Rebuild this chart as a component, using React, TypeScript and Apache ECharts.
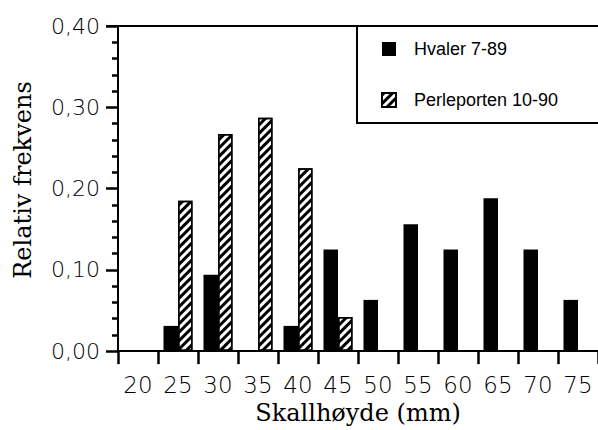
import React, { useEffect, useRef } from "react";
import * as echarts from "echarts";

const categories = ["20", "25", "30", "35", "40", "45", "50", "55", "60", "65", "70", "75"];
const hvaler = [0, 0.031, 0.094, 0, 0.031, 0.125, 0.063, 0.156, 0.125, 0.188, 0.125, 0.063];
const perleporten = [null, 0.185, 0.267, 0.287, 0.225, 0.042, null, null, null, null, null, null];
const yTickLabels = ["0,00", "0,10", "0,20", "0,30", "0,40"];
const seriesNames = ["Hvaler 7-89", "Perleporten 10-90"];
const xTitle = "Skallhøyde (mm)";
const yTitle = "Relativ frekvens";

const hatch = {
  symbol: "rect",
  symbolSize: 1,
  dashArrayX: [1, 0],
  dashArrayY: [3, 3],
  rotation: -Math.PI / 4,
  color: "#000",
  backgroundColor: "#fff",
};

export default function App() {
  const ref = useRef<HTMLDivElement>(null);
  useEffect(() => {
    if (!ref.current) return;
    const chart = echarts.init(ref.current, undefined, { renderer: "svg" });
    const axisFont = { fontFamily: "DejaVu Sans", fontWeight: 200, fontSize: 22, color: "#000" };
    chart.setOption({
      animation: false,
      backgroundColor: "#fff",
      grid: { left: 118, top: 26, width: 484, height: 326, show: false },
      legend: {
        orient: "vertical",
        left: 376,
        top: 35,
        itemWidth: 14,
        itemHeight: 14,
        itemGap: 33,
        icon: "rect",
        data: seriesNames,
        textStyle: {
          fontFamily: "Liberation Sans",
          fontSize: 18,
          color: "#000",
          padding: [0, 0, 0, 13],
        },
      },
      xAxis: {
        type: "category",
        data: categories,
        name: xTitle,
        nameLocation: "middle",
        nameGap: 46,
        nameTextStyle: { fontFamily: "DejaVu Serif", fontSize: 24, color: "#000" },
        axisLine: { show: true, lineStyle: { color: "#000", width: 2 } },
        axisTick: { show: true, interval: 0, length: 13, lineStyle: { color: "#000", width: 2.5 } },
        axisLabel: { ...axisFont, fontSize: 23, margin: 22, interval: 0 },
        splitLine: { show: false },
      },
      yAxis: {
        type: "value",
        min: 0,
        max: 0.4,
        interval: 0.1,
        axisLine: { show: true, lineStyle: { color: "#000", width: 2 } },
        axisTick: { show: true, length: 12, lineStyle: { color: "#000", width: 2.5 } },
        minorTick: { show: true, splitNumber: 5, length: 6, lineStyle: { color: "#000", width: 2.5 } },
        axisLabel: {
          ...axisFont,
          margin: 18,
          formatter: (v: number) => yTickLabels[Math.round(v * 10)],
        },
        splitLine: { show: false },
      },
      graphic: [
        {
          type: "line",
          shape: { x1: 106, y1: 26, x2: 598, y2: 26 },
          style: { stroke: "#000", lineWidth: 2 },
        },
        {
          type: "rect",
          shape: { x: 357, y: 26, width: 260, height: 97 },
          style: { fill: "none", stroke: "#000", lineWidth: 2 },
          z: 10,
        },
        {
          type: "text",
          x: 23,
          y: 180,
          rotation: Math.PI / 2,
          style: {
            text: yTitle,
            fontFamily: "DejaVu Serif",
            fontSize: 24,
            fill: "#000",
            align: "center",
            verticalAlign: "middle",
          },
        },
      ],
      series: [
        {
          name: seriesNames[0],
          type: "bar",
          data: hvaler,
          barWidth: 14.5,
          barGap: "0%",
          itemStyle: { color: "#000" },
        },
        {
          name: seriesNames[1],
          type: "bar",
          data: perleporten,
          barWidth: 14.5,
          barGap: "0%",
          itemStyle: { color: "#fff", borderColor: "#000", borderWidth: 1.5, decal: hatch },
        },
      ],
    });
    return () => chart.dispose();
  }, []);
  return (
    <div
      ref={ref}
      style={{ position: "fixed", left: 0, top: 0, width: 598, height: 430, background: "#fff" }}
    />
  );
}
